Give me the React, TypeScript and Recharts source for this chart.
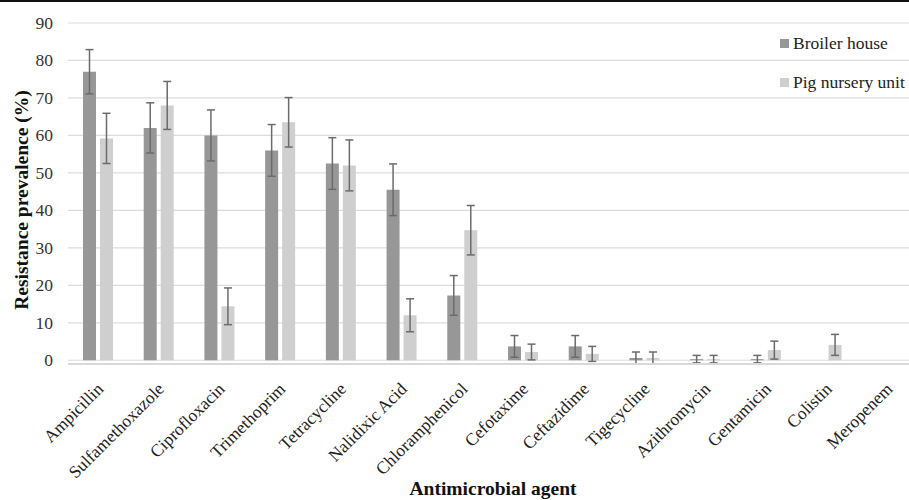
import React from 'react';
import { BarChart, Bar, XAxis, YAxis, CartesianGrid, ErrorBar } from 'recharts';

const agents = ['Ampicillin','Sulfamethoxazole','Ciprofloxacin','Trimethoprim','Tetracycline','Nalidixic Acid','Chloramphenicol','Cefotaxime','Ceftazidime','Tigecycline','Azithromycin','Gentamicin','Colistin','Meropenem'];
const broiler = [77, 62, 60, 56, 52.5, 45.5, 17.3, 3.7, 3.7, 0.6, 0.3, 0.3, 0, 0];
const broilerErr = [5.9, 6.7, 6.8, 6.9, 6.9, 6.9, 5.3, 2.9, 2.9, 1.6, 1.0, 1.0, 0, 0];
const pig = [59.2, 68, 14.4, 63.5, 52, 12, 34.7, 2.2, 1.7, 0.6, 0.3, 2.7, 4.1, 0];
const pigErr = [6.7, 6.4, 4.9, 6.6, 6.8, 4.4, 6.6, 2.1, 2.0, 1.6, 1.0, 2.4, 2.8, 0];
const yTicks = [0, 10, 20, 30, 40, 50, 60, 70, 80, 90];
const seriesNames = ['Broiler house', 'Pig nursery unit'];
const seriesColors = ['#979797', '#cfcfcf'];

const data = agents.map((a, i) => ({
  name: a,
  broiler: broiler[i],
  broilerErr: broilerErr[i],
  pig: pig[i],
  pigErr: pigErr[i],
}));

const FONT = '"Liberation Serif", "Times New Roman", serif';

const XTick = (props: any) => {
  const { x, y, payload } = props;
  return (
    <g transform={`translate(${x + 6},${y + 18})`}>
      <text x={0} y={0} textAnchor="end" transform="rotate(-45)" fontFamily={FONT} fontSize={17.5} fill="#222">
        {payload.value}
      </text>
    </g>
  );
};

const YTick = (props: any) => {
  const { x, y, payload } = props;
  return (
    <text x={x} y={y} dy={6} textAnchor="end" fontFamily={FONT} fontSize={17.5} fill="#333">
      {payload.value}
    </text>
  );
};

export default function App() {
  return (
    <div style={{ position: 'absolute', left: 0, top: 0, width: 909, height: 500, overflow: 'hidden', background: '#fff' }}>
      <div style={{ position: 'absolute', left: 0, top: 0, width: 909, height: 2, background: '#111' }} />
      <BarChart
        width={918}
        height={500}
        data={data}
        margin={{ top: 23, right: 0, bottom: 0, left: 0 }}
        barGap={4}
        barSize={13}
      >
        <CartesianGrid vertical={false} stroke="#dcdcdc" strokeWidth={1.2} />
        <XAxis
          dataKey="name"
          height={136}
          interval={0}
          tickLine={false}
          axisLine={{ stroke: '#d9d9d9', strokeWidth: 2 }}
          tick={<XTick />}
          label={{
            content: () => (
              <text x={493} y={495} textAnchor="middle" fontFamily={FONT} fontSize={19.5} fontWeight="bold" fill="#111">
                Antimicrobial agent
              </text>
            ),
          }}
        />
        <YAxis
          width={68}
          domain={[0, 90]}
          ticks={yTicks}
          interval={0}
          tickLine={false}
          axisLine={false}
          tickSize={0}
          tickMargin={15}
          tick={<YTick />}
          label={{
            content: () => (
              <text x={28} y={200} transform="rotate(-90 28 200)" textAnchor="middle" fontFamily={FONT} fontSize={19.5} fontWeight="bold" fill="#111">
                Resistance prevalence (%)
              </text>
            ),
          }}
        />
        <Bar dataKey="broiler" name={seriesNames[0]} fill={seriesColors[0]} isAnimationActive={false}>
          <ErrorBar dataKey="broilerErr" width={4} stroke="#6b6b6b" strokeWidth={1.5} />
        </Bar>
        <Bar dataKey="pig" name={seriesNames[1]} fill={seriesColors[1]} isAnimationActive={false}>
          <ErrorBar dataKey="pigErr" width={4} stroke="#6b6b6b" strokeWidth={1.5} />
        </Bar>
      </BarChart>
      <div style={{ position: 'absolute', left: 780, top: 24, fontFamily: FONT, fontSize: 17.5, color: '#222' }}>
        {seriesNames.map((n, i) => (
          <div key={n} style={{ display: 'flex', alignItems: 'center', height: 39, whiteSpace: 'nowrap' }}>
            <span style={{ display: 'inline-block', width: 9, height: 9, background: seriesColors[i], marginRight: 4 }} />
            <span>{n}</span>
          </div>
        ))}
      </div>
    </div>
  );
}
